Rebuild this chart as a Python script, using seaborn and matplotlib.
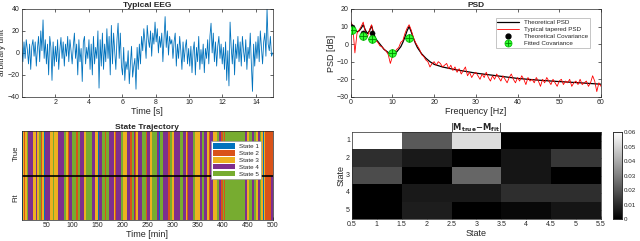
import numpy as np
import pandas as pd
import seaborn as sns
import matplotlib.pyplot as plt
from matplotlib.colors import ListedColormap
from matplotlib.patches import Patch
from matplotlib.lines import Line2D

sns.set_style("ticks")
plt.rcParams['font.family'] = ['Liberation Sans', 'DejaVu Sans']
plt.rcParams['xtick.direction'] = 'in'
plt.rcParams['ytick.direction'] = 'in'
plt.rcParams['xtick.labelsize'] = 5
plt.rcParams['ytick.labelsize'] = 5
plt.rcParams['axes.linewidth'] = 0.5
plt.rcParams['xtick.major.width'] = 0.5
plt.rcParams['ytick.major.width'] = 0.5
plt.rcParams['xtick.major.size'] = 2
plt.rcParams['ytick.major.size'] = 2

# ---- data ----
# typical EEG, 15 samples per second over 15 s
eeg = [5, -8, 10, -5, 12, 3, -10, 8, -15, 6, 12, -3, 10, -12, 4,
       15, -8, 20, 2, 30, -5, 12, -10, 8, -20, 15, 5, -25, 10, -12,
       6, -8, 12, -15, 3, 14, -5, 10, -12, 8, -3, 15, -8, 12, 2,
       -10, 6, 18, -5, 8, -20, 12, -8, 4, -26, 10, 15, -10, 5, -5,
       12, -15, 8, -20, 15, -10, 5, -5, 20, -32, 12, -12, 18, -15, 8,
       -8, 22, -5, 15, -20, 25, -10, 18, 2, -15, 12, 27, -5, 18, -12,
       -20, 5, -25, -8, -15, 2, -28, -10, 6, -22, -12, -5, -33, 5, -15,
       8, -10, 15, 2, 22, 10, -5, 25, 12, 5, 20, -3, 18, 8, 28,
       10, 22, 0, 15, 5, 18, -8, 12, 33, 5, 20, -2, 15, 8, 12,
       -5, 10, 18, -12, 8, -5, 15, 2, -15, 10, -8, 5, 12, -10, 4,
       -12, 6, -18, 2, 10, -20, 5, -8, 15, -15, 3, -10, 8, -18, 4,
       -5, 12, -10, 15, 27, 0, 18, -8, 10, -12, 6, 15, -5, 8, -10,
       5, -15, 10, -25, 2, -30, 28, 5, -10, 12, -20, 8, -5, 15, -8,
       10, -12, 15, 2, -8, 12, -15, 5, -5, 18, -10, -35, 8, -12, 10,
       -5, 15, -8, 20, 5, -10, 10, 18, -3, 40, 8, 2, 15, -3, 0]
eeg_time = np.linspace(0, 15, len(eeg))

# theoretical PSD
psd_freq = [0, 0.5, 1, 1.5, 2, 2.5, 3, 3.5, 4, 4.5, 5, 5.5, 6, 7, 8, 9, 10, 11, 12, 12.5,
            13, 13.5, 14, 14.5, 15, 15.5, 16, 17, 18, 19, 20, 22, 25, 30, 35, 40, 45, 50, 55, 60]
psd_theory = [12, 10, 8, 7, 7.5, 9, 11, 8, 6, 7.5, 10.5, 6, 3, 0, -3, -4.8, -5.5, -4.5, -1.5, 1,
              4, 7.5, 10, 7, 3.5, 0.5, -2, -5.5, -8, -10, -11.5, -13, -14.5, -16.5, -18, -19.5,
              -20.5, -21.3, -22, -22.8]

# typical tapered PSD, every 0.5 Hz
tapered = [13, 10, -5, 6, 8, 10, 12.5, 7, 4, 8, 11, 5, 2, 1, -1, -1.5, -3, -4, -6, -11,
           -7, -5, -3, -2, 1, 2, 6, 9, 11, 8, 4, 1, -1, -3, -6, -7, -9, -10, -13, -11,
           -10, -12, -10, -11, -13, -12, -11, -14, -12, -15, -13, -16, -14, -17, -15, -13, -18, -16, -19, -17,
           -16, -18, -20, -17, -19, -16, -19, -21, -18, -20, -17, -19, -21, -18, -20, -22, -19, -17, -20, -22,
           -19, -21, -18, -20, -23, -19, -21, -20, -22, -19, -21, -24, -20, -22, -19, -21, -23, -20, -22, -24,
           -21, -20, -23, -21, -22, -20, -24, -22, -21, -23, -20, -23, -22, -21, -24, -22, -18, -21, -27, -22,
           -24]
tapered_freq = np.linspace(0, 60, len(tapered))

cov_freq = [0.2, 3, 5, 10, 14]
cov_theory = [10, 6.4, 6.4, -5, 4]
cov_fit = [7.9, 4.8, 3.1, -5, 3.5]

# state trajectory as (state, minutes) runs
true_runs = [(1, 2), (3, 3), (2, 2), (3, 4), (5, 2), (4, 10), (3, 5), (4, 3), (3, 3), (5, 4),
             (2, 3), (3, 4), (1, 2), (4, 9), (3, 6), (5, 3), (3, 8), (4, 12), (5, 4), (3, 3),
             (2, 2), (4, 7), (5, 8), (2, 3), (5, 4), (4, 9), (3, 3), (5, 12), (4, 6), (3, 5),
             (1, 2), (4, 7), (5, 5), (2, 2), (5, 6), (4, 10), (3, 3), (2, 2), (4, 9), (5, 5),
             (3, 8), (4, 6), (2, 3), (5, 4), (4, 3), (2, 2), (3, 4), (4, 8), (5, 7), (2, 2),
             (4, 6), (3, 4), (5, 10), (4, 5), (1, 2), (5, 6), (4, 10), (2, 3), (5, 5), (3, 4),
             (4, 12), (5, 6), (4, 5), (3, 3), (2, 2), (4, 9), (5, 4), (3, 11), (4, 3), (5, 5),
             (4, 6), (3, 3), (2, 2), (4, 7), (3, 7), (5, 4), (4, 5), (2, 3), (5, 3), (2, 2),
             (5, 38), (4, 4), (3, 5), (5, 6), (4, 4), (5, 4), (3, 4), (4, 3), (5, 3), (3, 3),
             (1, 3), (3, 2), (2, 15)]
fit_runs = true_runs[:-1] + [(2, 12), (4, 3)]
state_names = ['State 1', 'State 2', 'State 3', 'State 4', 'State 5']
state_colors = ['#0072BD', '#D95319', '#EDB120', '#7E2F8E', '#77AC30']

# |M_true - M_fit|
diff_matrix = [[0.060, 0.021, 0.052, 0.000, 0.000],
               [0.011, 0.006, 0.000, 0.005, 0.013],
               [0.018, 0.000, 0.024, 0.005, 0.000],
               [0.000, 0.006, 0.006, 0.011, 0.011],
               [0.000, 0.007, 0.000, 0.002, 0.005]]

# ---- figure ----
fig = plt.figure(figsize=(6.4, 2.41), dpi=100)
ax1 = fig.add_axes([0.034, 0.598, 0.392, 0.365])
ax2 = fig.add_axes([0.548, 0.598, 0.391, 0.365])
ax3 = fig.add_axes([0.034, 0.087, 0.392, 0.369])
ax4 = fig.add_axes([0.550, 0.091, 0.389, 0.361])
cax = fig.add_axes([0.958, 0.091, 0.014, 0.361])

# EEG
sns.lineplot(x=eeg_time, y=eeg, ax=ax1, color='#0072BD', lw=0.6)
ax1.set_xlim(0, 15)
ax1.set_ylim(-40, 40)
ax1.set_xticks(range(2, 15, 2))
ax1.set_yticks([-40, -20, 0, 20, 40])
ax1.set_title('Typical EEG', fontsize=6, fontweight='bold', pad=1.5)
ax1.set_xlabel('Time [s]', fontsize=6.5, labelpad=0.5)
ax1.set_ylabel('arbitrary unit', fontsize=6)
ax1.yaxis.set_label_coords(-0.062, 0.5)
ax1.tick_params(top=True, right=True, pad=1.5)

# PSD
sns.lineplot(x=psd_freq, y=psd_theory, ax=ax2, color='black', lw=0.9, label='Theoretical PSD')
sns.lineplot(x=tapered_freq, y=tapered, ax=ax2, color='red', lw=0.6, label='Typical tapered PSD')
sns.scatterplot(x=cov_freq, y=cov_theory, ax=ax2, color='black', s=14, edgecolor='black', zorder=4)
sns.scatterplot(x=cov_freq, y=cov_fit, ax=ax2, color='#33ff33', s=30, edgecolor='#00bb00',
                linewidth=0.6, zorder=5)
sns.scatterplot(x=cov_freq, y=cov_fit, ax=ax2, color='#008800', marker='+', s=30,
                linewidth=0.6, zorder=6)
ax2.set_xlim(0, 60)
ax2.set_ylim(-30, 20)
ax2.set_yticks([-30, -20, -10, 0, 10, 20])
ax2.set_title('PSD', fontsize=6, fontweight='bold', pad=1.5)
ax2.set_xlabel('Frequency [Hz]', fontsize=6.5, labelpad=0.5)
ax2.set_ylabel('PSD [dB]', fontsize=6.5, labelpad=0.5)
ax2.tick_params(top=True, right=True, pad=1.5)
h_theory = Line2D([], [], color='black', lw=0.9)
h_taper = Line2D([], [], color='red', lw=0.6)
h_cov = Line2D([], [], ls='', marker='o', color='black', ms=3.5)
h_fit1 = Line2D([], [], ls='', marker='o', mfc='#33ff33', mec='#00bb00', ms=5, mew=0.6)
h_fit2 = Line2D([], [], ls='', marker='+', color='#008800', ms=5, mew=0.6)
leg = ax2.legend([h_theory, h_taper, h_cov, (h_fit1, h_fit2)],
                 ['Theoretical PSD', 'Typical tapered PSD', 'Theoretical Covariance', 'Fitted Covariance'],
                 loc='upper right', bbox_to_anchor=(0.97, 0.93), fontsize=4.5, frameon=True,
                 fancybox=False, handlelength=3.5, borderpad=0.3, labelspacing=0.25, handletextpad=0.8)
leg.get_frame().set_edgecolor('#999999')
leg.get_frame().set_linewidth(0.5)

# state trajectory
true_seq = np.repeat([s for s, d in true_runs], [d for s, d in true_runs])
fit_seq = np.repeat([s for s, d in fit_runs], [d for s, d in fit_runs])
traj = pd.DataFrame([true_seq, fit_seq], index=['True', 'Fit'])
sns.heatmap(traj, ax=ax3, cmap=ListedColormap(state_colors), vmin=0.5, vmax=5.5, cbar=False)
ax3.axhline(1, color='black', lw=1.2)
ax3.set_xticks(range(50, 501, 50))
ax3.set_xticklabels([str(v) for v in range(50, 501, 50)], rotation=0)
ax3.set_yticks([0.5, 1.5])
ax3.set_yticklabels(['True', 'Fit'], rotation=90, va='center', fontsize=5.5)
ax3.tick_params(left=False, pad=1.5)
ax3.set_title('State Trajectory', fontsize=6, fontweight='bold', pad=1.5)
ax3.set_xlabel('Time [min]', fontsize=6.5, labelpad=0.5)
for sp in ax3.spines.values():
    sp.set_visible(True)
    sp.set_linewidth(0.5)
handles = [Patch(facecolor=c, edgecolor='none') for c in state_colors]
leg3 = ax3.legend(handles, state_names, loc='upper right', bbox_to_anchor=(0.965, 0.92),
                  fontsize=4.5, frameon=True, fancybox=False, framealpha=1,
                  handlelength=3.5, handleheight=1.0, borderpad=0.3, labelspacing=0.15,
                  handletextpad=0.6)
leg3.get_frame().set_edgecolor('#999999')
leg3.get_frame().set_linewidth(0.5)

# |M_true - M_fit|
mat = pd.DataFrame(diff_matrix, index=range(1, 6), columns=range(1, 6))
sns.heatmap(mat, ax=ax4, cmap='gray', vmin=0, vmax=0.06, cbar_ax=cax,
            cbar_kws={'ticks': [0, 0.01, 0.02, 0.03, 0.04, 0.05, 0.06]})
ax4.set_xticks(np.arange(0, 5.01, 0.5))
ax4.set_xticklabels(['0.5', '1', '1.5', '2', '2.5', '3', '3.5', '4', '4.5', '5', '5.5'], rotation=0)
ax4.set_yticks(np.arange(0.5, 5, 1))
ax4.set_yticklabels(['1', '2', '3', '4', '5'], rotation=0)
ax4.tick_params(pad=1.5, top=True, right=True, color='#555555')
ax4.set_xlabel('State', fontsize=6.5, labelpad=0.5)
ax4.set_ylabel('State', fontsize=6.5, labelpad=0.5)
ax4.set_title(r'$|\mathbf{M_{true}}\mathbf{-M_{fit}}|$', fontsize=6, pad=1.5)
for sp in ax4.spines.values():
    sp.set_visible(True)
    sp.set_linewidth(0.5)
cax.tick_params(labelsize=4.5, direction='in', length=2, width=0.4, pad=1.5)
cax.set_yticklabels(['0', '0.01', '0.02', '0.03', '0.04', '0.05', '0.06'])
for sp in cax.spines.values():
    sp.set_visible(True)
    sp.set_linewidth(0.5)

fig.savefig('out.png', dpi=100)
